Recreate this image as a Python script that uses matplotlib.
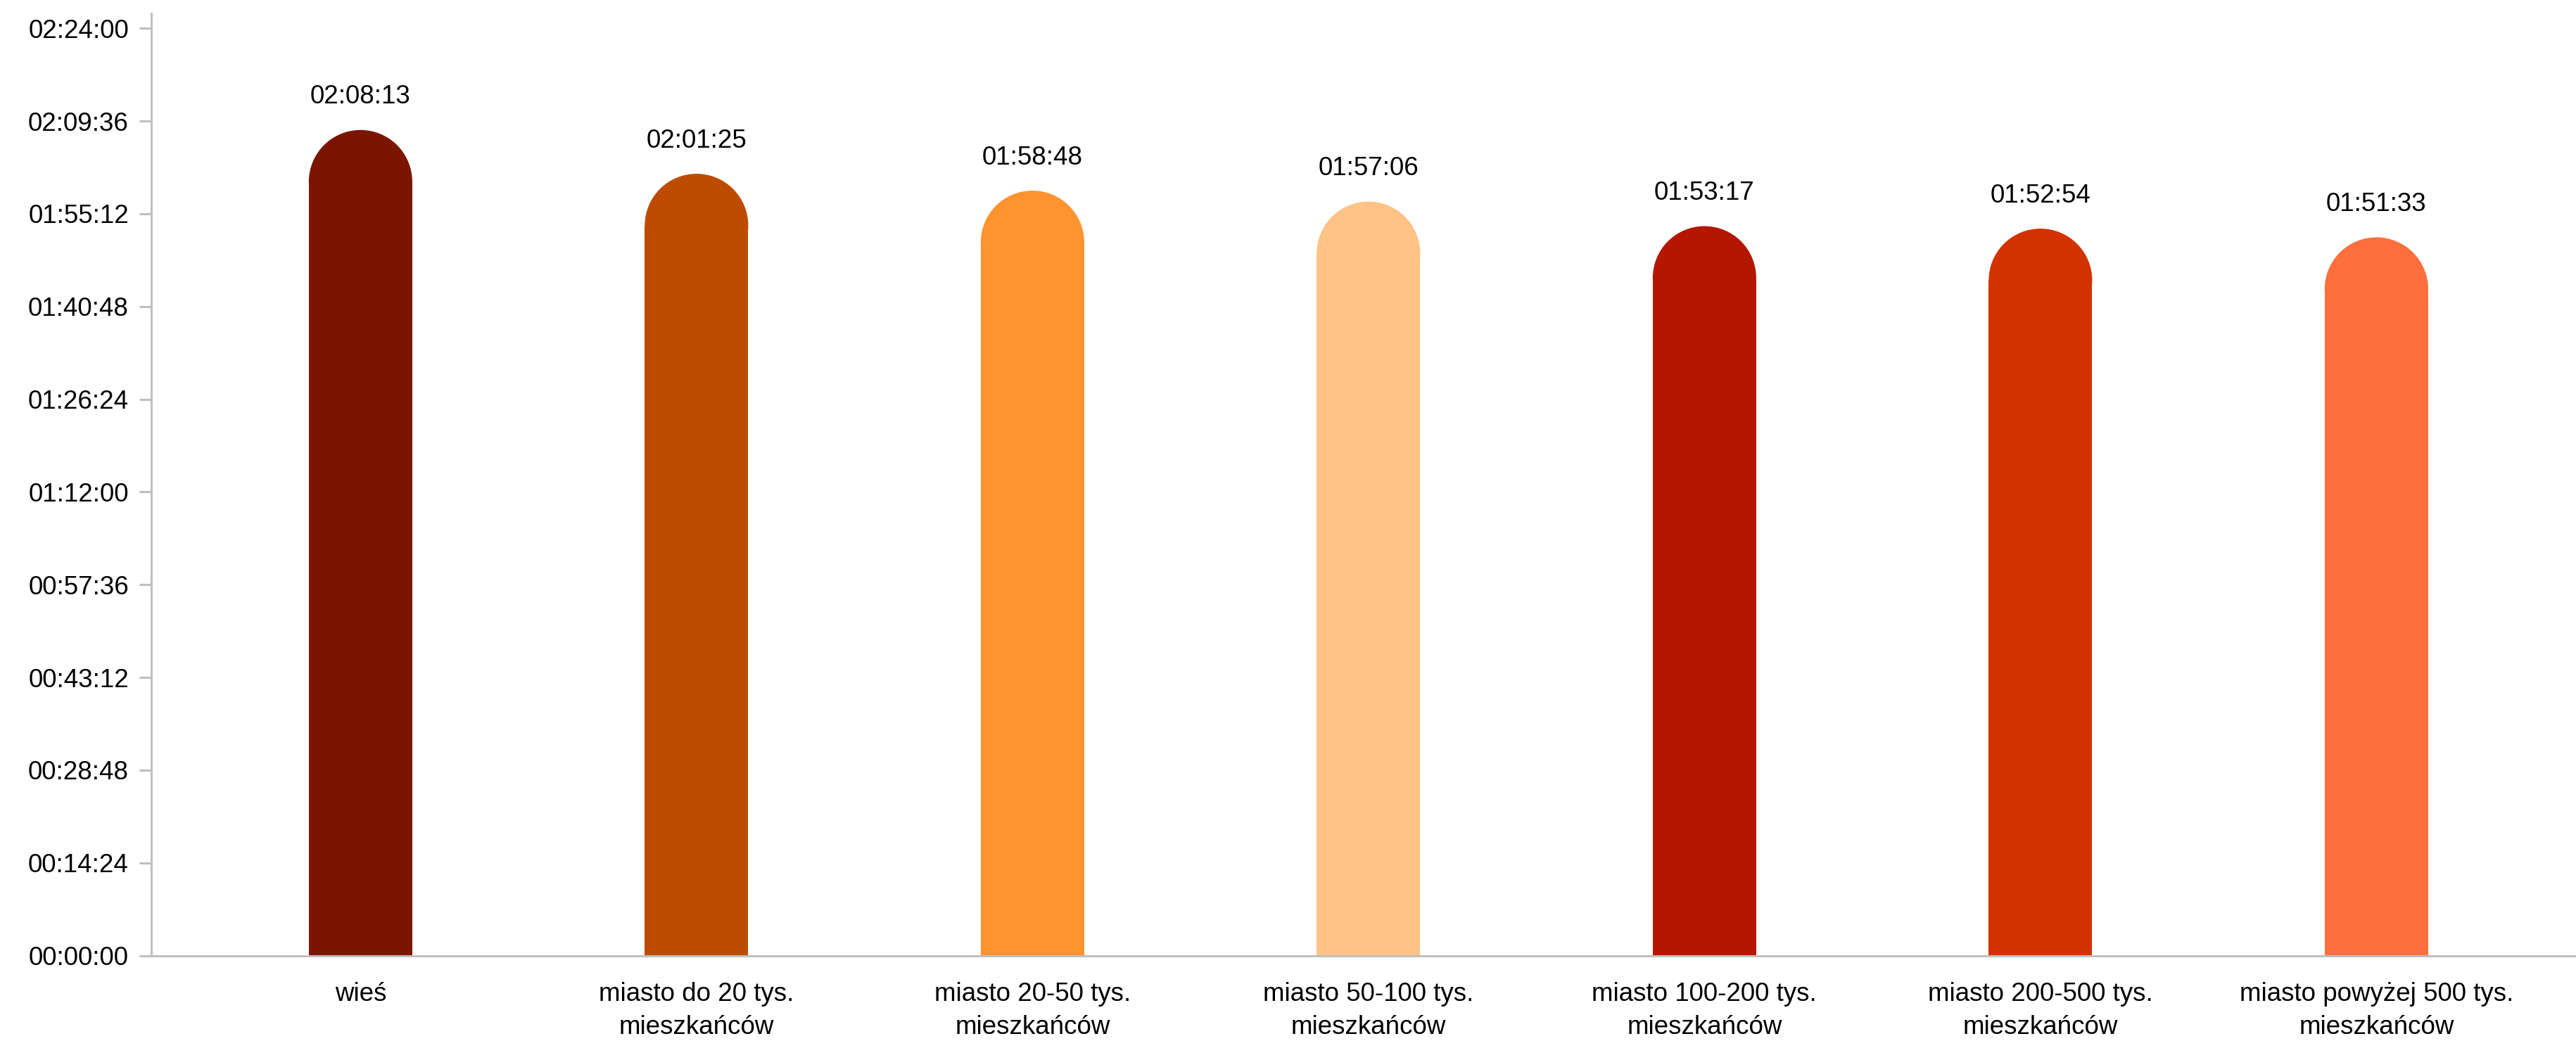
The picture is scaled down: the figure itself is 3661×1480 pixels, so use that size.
import numpy as np
import matplotlib
matplotlib.use('Agg')
import matplotlib.pyplot as plt
from matplotlib.patches import Ellipse
from matplotlib.ticker import FuncFormatter, MultipleLocator

plt.rcParams['font.family'] = ['Liberation Sans', 'DejaVu Sans']

categories = ['wieś', 'miasto do 20 tys.\nmieszkańców', 'miasto 20-50 tys.\nmieszkańców',
              'miasto 50-100 tys.\nmieszkańców', 'miasto 100-200 tys.\nmieszkańców',
              'miasto 200-500 tys.\nmieszkańców', 'miasto powyżej 500 tys.\nmieszkańców']
labels = ['02:08:13', '02:01:25', '01:58:48', '01:57:06', '01:53:17', '01:52:54', '01:51:33']
colors = ['#7A1600', '#BD4B00', '#FF9330', '#FFC386', '#B41700', '#D23200', '#FF6F3D']


def to_sec(s):
    h, m, sec = [int(p) for p in s.split(':')]
    return h * 3600 + m * 60 + sec


values = np.array([to_sec(s) for s in labels])


def fmt(v, pos):
    v = int(round(v))
    return '%02d:%02d:%02d' % (v // 3600, (v % 3600) // 60, v % 60)


W, H = 3661, 1480
fig = plt.figure(figsize=(W / 100, H / 100), dpi=100)
ax = fig.add_axes([0.0587, 0.082, 0.9413, 0.905])

x = np.arange(len(categories))
bw = 0.308
ax.set_xlim(-0.623, 6.594)
ax.set_ylim(0, 8778)

# radius of the round cap in data units (half the bar width in pixels)
fig.canvas.draw()
ax_w = ax.get_window_extent().width
ax_h = ax.get_window_extent().height
r_px = bw / (6.594 + 0.623) * ax_w / 2
r_y = r_px * 8778 / ax_h

for xi, v, c, lab in zip(x, values, colors, labels):
    ax.bar(xi, v - r_y, width=bw, color=c, linewidth=0, zorder=2)
    ax.add_patch(Ellipse((xi, v - r_y), bw, 2 * r_y, facecolor=c, linewidth=0, zorder=2))
    ax.annotate(lab, (xi, v), xytext=(0, 27), textcoords='offset points',
                ha='center', va='baseline', fontsize=26.5)

ax.yaxis.set_major_locator(MultipleLocator(864))
ax.yaxis.set_major_formatter(FuncFormatter(fmt))
ax.set_xticks(x)
ax.set_xticklabels(categories, fontsize=26.5, linespacing=1.45)

for s in ['top', 'right']:
    ax.spines[s].set_visible(False)
for s in ['left', 'bottom']:
    ax.spines[s].set_color('#BFBFBF')
    ax.spines[s].set_linewidth(2.2)

ax.tick_params(axis='y', length=12, width=2.2, color='#BFBFBF', pad=11, labelsize=26.5)
ax.tick_params(axis='x', length=0, pad=27)

fig.savefig('out.png', dpi=100)
